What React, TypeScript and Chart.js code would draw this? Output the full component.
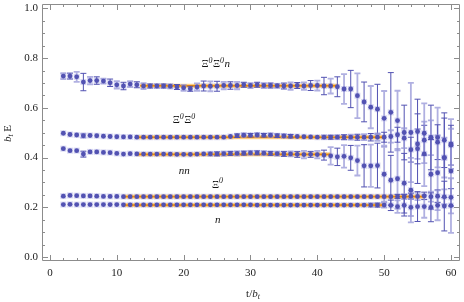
import React, { useEffect, useRef } from "react";
import { Chart, registerables } from "chart.js";
Chart.register(...registerables);

const tSteps = [2, 3, 4, 5, 6, 7, 8, 9, 10, 11, 12, 13, 14, 15, 16, 17, 18, 19, 20, 21, 22, 23, 24, 25, 26, 27, 28, 29, 30, 31, 32, 33, 34, 35, 36, 37, 38, 39, 40, 41, 42, 43, 44, 45, 46, 47, 48, 49, 50, 51, 52, 53, 54, 55, 56, 57, 58, 59, 60];

const xiXiN = [0.728, 0.728, 0.725, 0.704, 0.71, 0.71, 0.708, 0.701, 0.693, 0.688, 0.696, 0.693, 0.688, 0.688, 0.688, 0.688, 0.687, 0.684, 0.681, 0.677, 0.684, 0.688, 0.687, 0.687, 0.69, 0.69, 0.69, 0.693, 0.69, 0.693, 0.69, 0.69, 0.689, 0.688, 0.688, 0.69, 0.688, 0.69, 0.69, 0.688, 0.688, 0.685, 0.676, 0.676, 0.649, 0.624, 0.603, 0.595, 0.558, 0.582, 0.549, 0.501, 0.501, 0.505, 0.498, 0.481, 0.481, 0.47, 0.455];
const xiXiNErr = [0.012, 0.012, 0.02, 0.035, 0.015, 0.015, 0.01, 0.015, 0.015, 0.015, 0.012, 0.012, 0.012, 0.008, 0.008, 0.008, 0.008, 0.01, 0.012, 0.01, 0.015, 0.02, 0.02, 0.02, 0.015, 0.015, 0.015, 0.01, 0.01, 0.01, 0.01, 0.01, 0.008, 0.012, 0.015, 0.012, 0.015, 0.02, 0.02, 0.035, 0.03, 0.04, 0.06, 0.075, 0.09, 0.08, 0.085, 0.1, 0.11, 0.16, 0.12, 0.11, 0.2, 0.13, 0.12, 0.13, 0.12, 0.11, 0.1];

const xiXi = [0.498, 0.493, 0.491, 0.488, 0.489, 0.488, 0.486, 0.485, 0.484, 0.483, 0.483, 0.482, 0.482, 0.482, 0.482, 0.482, 0.482, 0.482, 0.482, 0.482, 0.482, 0.482, 0.482, 0.482, 0.482, 0.485, 0.488, 0.49, 0.49, 0.491, 0.49, 0.49, 0.488, 0.487, 0.486, 0.485, 0.484, 0.483, 0.482, 0.482, 0.482, 0.482, 0.482, 0.482, 0.482, 0.482, 0.482, 0.482, 0.482, 0.485, 0.492, 0.478, 0.432, 0.455, 0.47, 0.48, 0.462, 0.4, 0.45];
const xiXiErr = [0.004, 0.004, 0.005, 0.008, 0.004, 0.004, 0.004, 0.004, 0.004, 0.004, 0.004, 0.004, 0.004, 0.004, 0.004, 0.004, 0.004, 0.004, 0.004, 0.004, 0.004, 0.005, 0.005, 0.005, 0.006, 0.006, 0.007, 0.007, 0.007, 0.007, 0.007, 0.007, 0.007, 0.007, 0.007, 0.006, 0.006, 0.006, 0.006, 0.007, 0.008, 0.008, 0.01, 0.01, 0.012, 0.012, 0.015, 0.015, 0.02, 0.025, 0.03, 0.04, 0.05, 0.06, 0.06, 0.07, 0.07, 0.08, 0.08];

const nn = [0.436, 0.428, 0.428, 0.414, 0.423, 0.423, 0.421, 0.42, 0.417, 0.414, 0.416, 0.415, 0.414, 0.414, 0.414, 0.414, 0.414, 0.413, 0.413, 0.413, 0.414, 0.415, 0.415, 0.415, 0.416, 0.417, 0.417, 0.418, 0.419, 0.419, 0.418, 0.417, 0.416, 0.415, 0.415, 0.413, 0.412, 0.413, 0.412, 0.41, 0.407, 0.403, 0.405, 0.399, 0.388, 0.367, 0.367, 0.368, 0.333, 0.309, 0.315, 0.297, 0.269, 0.436, 0.415, 0.333, 0.339, 0.399, 0.346];
const nnErr = [0.005, 0.005, 0.005, 0.012, 0.004, 0.004, 0.004, 0.004, 0.005, 0.005, 0.005, 0.005, 0.005, 0.005, 0.005, 0.005, 0.005, 0.006, 0.006, 0.006, 0.006, 0.006, 0.007, 0.008, 0.008, 0.008, 0.008, 0.008, 0.008, 0.008, 0.008, 0.008, 0.008, 0.01, 0.01, 0.012, 0.015, 0.012, 0.015, 0.02, 0.035, 0.035, 0.045, 0.05, 0.06, 0.085, 0.085, 0.09, 0.11, 0.1, 0.12, 0.12, 0.13, 0.14, 0.13, 0.14, 0.15, 0.16, 0.17];

const xi0 = [0.245, 0.248, 0.247, 0.246, 0.246, 0.245, 0.244, 0.244, 0.244, 0.243, 0.243, 0.243, 0.243, 0.243, 0.243, 0.243, 0.243, 0.243, 0.243, 0.243, 0.243, 0.243, 0.243, 0.243, 0.243, 0.243, 0.243, 0.243, 0.243, 0.243, 0.243, 0.243, 0.243, 0.243, 0.243, 0.243, 0.243, 0.243, 0.243, 0.243, 0.243, 0.243, 0.243, 0.243, 0.243, 0.243, 0.243, 0.243, 0.243, 0.243, 0.244, 0.243, 0.245, 0.244, 0.246, 0.243, 0.245, 0.242, 0.24];
const xi0Err = [0.002, 0.002, 0.002, 0.002, 0.002, 0.002, 0.002, 0.002, 0.002, 0.002, 0.002, 0.002, 0.002, 0.002, 0.002, 0.002, 0.002, 0.002, 0.002, 0.002, 0.002, 0.002, 0.002, 0.002, 0.002, 0.002, 0.002, 0.002, 0.002, 0.002, 0.002, 0.002, 0.002, 0.002, 0.002, 0.002, 0.002, 0.002, 0.002, 0.002, 0.002, 0.002, 0.002, 0.002, 0.003, 0.003, 0.004, 0.004, 0.005, 0.006, 0.008, 0.01, 0.012, 0.015, 0.015, 0.02, 0.025, 0.03, 0.035];

const nucleon = [0.211, 0.212, 0.211, 0.211, 0.211, 0.211, 0.211, 0.211, 0.211, 0.21, 0.21, 0.21, 0.21, 0.21, 0.21, 0.21, 0.21, 0.21, 0.21, 0.21, 0.21, 0.21, 0.21, 0.21, 0.21, 0.21, 0.21, 0.21, 0.21, 0.209, 0.209, 0.209, 0.209, 0.209, 0.209, 0.209, 0.209, 0.209, 0.209, 0.209, 0.209, 0.209, 0.209, 0.209, 0.209, 0.209, 0.209, 0.209, 0.209, 0.208, 0.203, 0.208, 0.2, 0.203, 0.203, 0.2, 0.208, 0.205, 0.207];
const nucleonErr = [0.002, 0.002, 0.002, 0.002, 0.002, 0.002, 0.002, 0.002, 0.002, 0.002, 0.002, 0.002, 0.002, 0.002, 0.002, 0.002, 0.002, 0.002, 0.002, 0.002, 0.002, 0.002, 0.002, 0.002, 0.002, 0.002, 0.002, 0.002, 0.002, 0.002, 0.002, 0.002, 0.002, 0.002, 0.002, 0.002, 0.002, 0.002, 0.002, 0.002, 0.003, 0.003, 0.004, 0.005, 0.005, 0.006, 0.007, 0.008, 0.01, 0.021, 0.025, 0.043, 0.035, 0.06, 0.045, 0.058, 0.06, 0.1, 0.11];

// fits: value, start t, end t
const fitValues = [0.689, 0.482, 0.413, 0.243, 0.209];
const fitStart = [13.5, 13, 13, 11, 11];
const fitEnd = [43, 50, 42, 56, 50];

const xTickValues = [0, 10, 20, 30, 40, 50, 60];
const xMinorValues = [2, 4, 6, 8, 12, 14, 16, 18, 22, 24, 26, 28, 32, 34, 36, 38, 42, 44, 46, 48, 52, 54, 56, 58];
const yTickValues = [0, 0.2, 0.4, 0.6, 0.8, 1.0];
const yMinorValues = [0.05, 0.1, 0.15, 0.25, 0.3, 0.35, 0.45, 0.5, 0.55, 0.65, 0.7, 0.75, 0.85, 0.9, 0.95];

type Seg = { text: string; italic?: boolean; sup?: boolean; sub?: boolean };
const seriesLabels: Seg[][] = [
  [{ text: "Ξ" }, { text: "0", italic: true, sup: true }, { text: "Ξ" }, { text: "0", italic: true, sup: true }, { text: "n", italic: true }],
  [{ text: "Ξ" }, { text: "0", italic: true, sup: true }, { text: "Ξ" }, { text: "0", italic: true, sup: true }],
  [{ text: "nn", italic: true }],
  [{ text: "Ξ" }, { text: "0", italic: true, sup: true }],
  [{ text: "n", italic: true }],
];
const labelAnchorT = [24.8, 20.1, 20.1, 25.1, 25.1];
const labelAnchorV = [0.775, 0.549, 0.346, 0.29, 0.147];

const seriesValues = [xiXiN, xiXi, nn, xi0, nucleon];
const seriesErrors = [xiXiNErr, xiXiErr, nnErr, xi0Err, nucleonErr];

const SERIF = "'Liberation Serif', 'DejaVu Serif', serif";

function segWidth(ctx: CanvasRenderingContext2D, segs: Seg[], size: number) {
  let w = 0;
  for (const s of segs) {
    const fs = s.sup || s.sub ? size * 0.72 : size;
    ctx.font = `${s.italic ? "italic " : ""}${fs}px ${SERIF}`;
    w += ctx.measureText(s.text).width + (s.sup ? 0.5 : 0);
  }
  return w;
}

function drawSegs(ctx: CanvasRenderingContext2D, segs: Seg[], cx: number, cy: number, size: number) {
  const w = segWidth(ctx, segs, size);
  let x = cx - w / 2;
  ctx.textBaseline = "middle";
  ctx.textAlign = "left";
  for (const s of segs) {
    const fs = s.sup || s.sub ? size * 0.72 : size;
    ctx.font = `${s.italic ? "italic " : ""}${fs}px ${SERIF}`;
    const dy = s.sup ? -size * 0.35 : s.sub ? size * 0.3 : 0;
    ctx.fillText(s.text, x, cy + dy);
    x += ctx.measureText(s.text).width + (s.sup ? 0.5 : 0);
  }
}

const DARK = "rgb(82,82,178)";
const LIGHT = "rgba(150,150,215,0.75)";

const customPlugin = {
  id: "custom",
  beforeDatasetsDraw(chart: any) {
    const { ctx, chartArea, scales } = chart;
    const x = scales.x;
    const y = scales.y;
    ctx.save();
    ctx.beginPath();
    ctx.rect(chartArea.left, chartArea.top, chartArea.right - chartArea.left, chartArea.bottom - chartArea.top);
    ctx.clip();
    // halos
    ctx.fillStyle = "rgba(170,170,228,0.45)";
    for (let s = 0; s < seriesValues.length; s++) {
      for (let i = 0; i < tSteps.length; i++) {
        const px = x.getPixelForValue(tSteps[i]);
        const py = y.getPixelForValue(seriesValues[s][i]);
        ctx.fillRect(px - 3, py - 3, 6, 6);
      }
    }
    // fit bands
    for (let s = 0; s < fitValues.length; s++) {
      const py = y.getPixelForValue(fitValues[s]);
      const x0 = x.getPixelForValue(fitStart[s]);
      const x1 = x.getPixelForValue(fitEnd[s]);
      ctx.fillStyle = "rgba(255,175,50,0.6)";
      ctx.fillRect(x0, py - 2, x1 - x0, 4);
      ctx.fillStyle = "rgb(240,140,0)";
      ctx.fillRect(x0, py - 0.8, x1 - x0, 1.6);
    }
    // error bars
    for (let s = 0; s < seriesValues.length; s++) {
      const vals = seriesValues[s];
      const errs = seriesErrors[s];
      for (let i = 0; i < tSteps.length; i++) {
        const px = x.getPixelForValue(tSteps[i]);
        const pyTop = y.getPixelForValue(vals[i] + errs[i]);
        const pyBot = y.getPixelForValue(vals[i] - errs[i]);
        const light = (i + s) % 2 === 0;
        ctx.strokeStyle = light ? LIGHT : DARK;
        ctx.lineWidth = light ? 1.8 : 1;
        ctx.beginPath();
        ctx.moveTo(px, pyTop);
        ctx.lineTo(px, pyBot);
        if (pyBot - pyTop > 3) {
          ctx.moveTo(px - 3, pyTop);
          ctx.lineTo(px + 3, pyTop);
          ctx.moveTo(px - 3, pyBot);
          ctx.lineTo(px + 3, pyBot);
        }
        ctx.stroke();
      }
    }
    ctx.restore();
  },
  afterDraw(chart: any) {
    const { ctx, chartArea, scales } = chart;
    const x = scales.x;
    const y = scales.y;
    const { left, right, top, bottom } = chartArea;
    ctx.save();
    ctx.strokeStyle = "#8c8c8c";
    ctx.lineWidth = 1;
    ctx.beginPath();
    ctx.rect(left + 0.5, top + 0.5, right - left - 1, bottom - top - 1);
    ctx.stroke();
    ctx.beginPath();
    for (const v of xTickValues) {
      const p = Math.round(x.getPixelForValue(v)) + 0.5;
      ctx.moveTo(p, bottom); ctx.lineTo(p, bottom - 6);
      ctx.moveTo(p, top); ctx.lineTo(p, top + 6);
    }
    for (const v of xMinorValues) {
      const p = Math.round(x.getPixelForValue(v)) + 0.5;
      ctx.moveTo(p, bottom); ctx.lineTo(p, bottom - 3);
      ctx.moveTo(p, top); ctx.lineTo(p, top + 3);
    }
    for (const v of yTickValues) {
      const p = Math.round(y.getPixelForValue(v)) + 0.5;
      ctx.moveTo(left, p); ctx.lineTo(left + 6, p);
      ctx.moveTo(right, p); ctx.lineTo(right - 6, p);
    }
    for (const v of yMinorValues) {
      const p = Math.round(y.getPixelForValue(v)) + 0.5;
      ctx.moveTo(left, p); ctx.lineTo(left + 3, p);
      ctx.moveTo(right, p); ctx.lineTo(right - 3, p);
    }
    ctx.stroke();

    ctx.fillStyle = "#222";
    ctx.font = `11px ${SERIF}`;
    ctx.textAlign = "center";
    ctx.textBaseline = "middle";
    for (const v of xTickValues) {
      ctx.fillText(String(v), x.getPixelForValue(v), bottom + 12);
    }
    ctx.textAlign = "right";
    for (const v of yTickValues) {
      ctx.fillText(v.toFixed(1), left - 4, y.getPixelForValue(v));
    }

    // series labels
    ctx.fillStyle = "#111";
    for (let s = 0; s < seriesLabels.length; s++) {
      drawSegs(ctx, seriesLabels[s], x.getPixelForValue(labelAnchorT[s]), y.getPixelForValue(labelAnchorV[s]), 11);
    }

    // axis titles
    ctx.fillStyle = "#222";
    drawSegs(ctx, [{ text: "t/" }, { text: "b", italic: true }, { text: "t", italic: true, sub: true }], (left + right) / 2 + 2, bottom + 33, 11);
    ctx.save();
    ctx.translate(8, (top + bottom) / 2 + 1);
    ctx.rotate(-Math.PI / 2);
    drawSegs(ctx, [{ text: "b", italic: true }, { text: "t", italic: true, sub: true }, { text: " E" }], 0, 0, 11);
    ctx.restore();
    ctx.restore();
  },
};

export default function App() {
  const ref = useRef<HTMLCanvasElement>(null);
  useEffect(() => {
    document.body.style.margin = "0";
    const datasets = seriesValues.map((vals) => ({
      data: tSteps.map((t, i) => ({ x: t, y: vals[i] })),
      backgroundColor: DARK,
      borderWidth: 0,
      pointRadius: 2.4,
      showLine: false,
    }));
    const chart = new Chart(ref.current!, {
      type: "scatter",
      data: { datasets },
      options: {
        animation: false,
        responsive: false,
        events: [],
        layout: { padding: { left: 42, top: 2, right: 1, bottom: 41 } },
        plugins: { legend: { display: false }, tooltip: { enabled: false } },
        scales: {
          x: { type: "linear", min: -1.19, max: 61.35, display: false },
          y: { type: "linear", min: -0.016, max: 1.018, display: false },
        },
      },
      plugins: [customPlugin],
    });
    return () => chart.destroy();
  }, []);
  return (
    <div style={{ position: "absolute", left: 0, top: 0, background: "#fff" }}>
      <canvas ref={ref} width={464} height={302} style={{ display: "block", width: 464, height: 302 }} />
    </div>
  );
}
